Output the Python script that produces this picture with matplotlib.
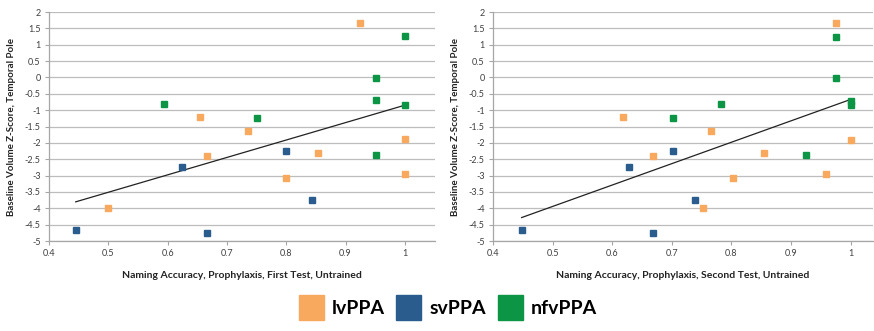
import matplotlib
matplotlib.use("Agg")
import matplotlib.pyplot as plt
from matplotlib.lines import Line2D
import numpy as np

plt.rcParams['font.family'] = ['Lato', 'DejaVu Sans']

groups = ['lvPPA', 'svPPA', 'nfvPPA']
colors = {'lvPPA': '#F8A95E', 'svPPA': '#2B5C8E', 'nfvPPA': '#0B9545'}

# first test (left panel)
x1 = {
    'lvPPA': [0.925, 0.655, 0.736, 0.667, 0.8, 0.853, 1.0, 1.0, 0.5],
    'svPPA': [0.445, 0.625, 0.667, 0.8, 0.843],
    'nfvPPA': [0.594, 0.75, 0.951, 0.951, 1.0, 1.0, 0.951],
}
y1 = {
    'lvPPA': [1.66, -1.2, -1.64, -2.41, -3.06, -2.31, -1.89, -2.95, -4.0],
    'svPPA': [-4.65, -2.73, -4.75, -2.26, -3.74],
    'nfvPPA': [-0.81, -1.25, -0.02, -0.69, 1.26, -0.84, -2.37],
}

# second test (right panel)
x2 = {
    'lvPPA': [0.975, 0.618, 0.766, 1.0, 0.854, 0.668, 0.752, 0.802, 0.958],
    'svPPA': [0.448, 0.668, 0.739, 0.628, 0.702],
    'nfvPPA': [0.975, 0.975, 1.0, 1.0, 0.702, 0.783, 0.926],
}
y2 = {
    'lvPPA': [1.65, -1.2, -1.64, -1.9, -2.3, -2.41, -4.0, -3.06, -2.95],
    'svPPA': [-4.65, -4.75, -3.74, -2.73, -2.25],
    'nfvPPA': [1.25, -0.03, -0.72, -0.83, -1.25, -0.82, -2.37],
}

xlabels = ['Naming Accuracy, Prophylaxis, First Test, Untrained',
           'Naming Accuracy, Prophylaxis, Second Test, Untrained']
ylabel = 'Baseline Volume Z-Score, Temporal Pole'
xticks = [0.4, 0.5, 0.6, 0.7, 0.8, 0.9, 1.0]
yticks = [2, 1.5, 1, 0.5, 0, -0.5, -1, -1.5, -2, -2.5, -3, -3.5, -4, -4.5, -5]

W, H = 874, 331
fig = plt.figure(figsize=(W / 100, H / 100), dpi=100)

# (data, label, left px, right px, px per x unit)
panels = [(x1, y1, xlabels[0], 49, 435, 593.0), (x2, y2, xlabels[1], 493, 873, 596.0)]
for xs, ys, xl, left, right, ppu in panels:
    ax = fig.add_axes([left / W, (H - 241) / H, (right - left) / W, 229 / H])
    ax.set_xlim(0.4, 0.4 + (right - left) / ppu)
    ax.set_ylim(-5, 2)
    ax.set_yticks(yticks)
    ax.set_yticklabels([f"{t:g}" for t in yticks])
    ax.set_xticks(xticks)
    ax.set_xticklabels([f"{t:g}" for t in xticks])
    ax.grid(axis='y', color='#BDBDBD', linewidth=0.9)
    ax.set_axisbelow(True)
    for s in ['top', 'right']:
        ax.spines[s].set_visible(False)
    for s in ['left', 'bottom']:
        ax.spines[s].set_color('#A6A6A6')
        ax.spines[s].set_linewidth(0.9)
    ax.tick_params(axis='both', labelsize=6.5, colors='#A6A6A6', labelcolor='#404040',
                   length=3, width=0.8, pad=3)

    for g in groups:
        ax.plot(xs[g], ys[g], 's', color=colors[g], markersize=5, zorder=3)

    # linear trendline over all points
    allx = np.concatenate([xs[g] for g in groups])
    ally = np.concatenate([ys[g] for g in groups])
    m, b = np.polyfit(allx, ally, 1)
    tx = np.array([allx.min(), allx.max()])
    ax.plot(tx, m * tx + b, color='#222222', linewidth=0.9, zorder=2)

    ax.set_xlabel(xl, fontsize=7.5, fontweight='bold', color='#222222', labelpad=9)
    ax.set_ylabel(ylabel, fontsize=7, fontweight='bold', color='#222222', labelpad=6)

handles = [Line2D([], [], marker='s', linestyle='none', markersize=18,
                  color=colors[g]) for g in groups]
fig.legend(handles, groups, loc='center', bbox_to_anchor=(448 / W, 1 - 308 / H),
           ncol=3, frameon=False, prop={'size': 14, 'weight': 'bold'},
           handletextpad=0.5, columnspacing=0.6, handlelength=1.2)

fig.savefig('out.png', dpi=100)
